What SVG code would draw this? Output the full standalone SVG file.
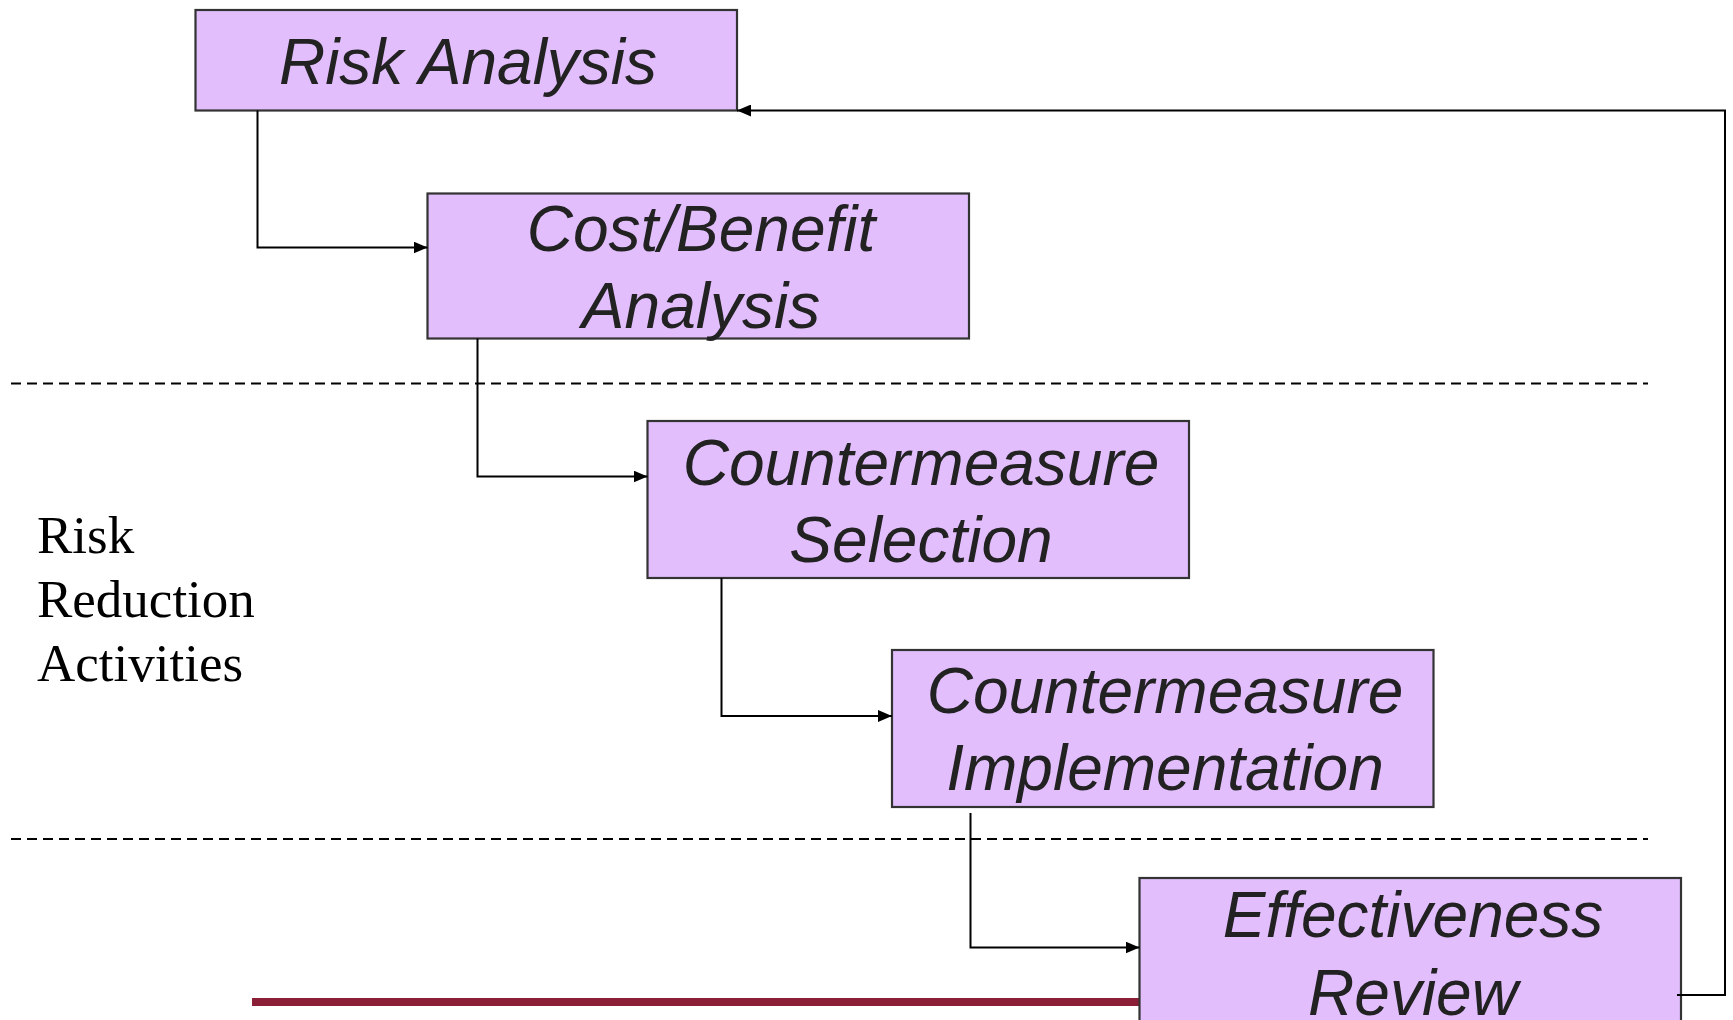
<svg xmlns="http://www.w3.org/2000/svg" width="1733" height="1020" viewBox="0 0 1733 1020">
  <style>
    .box { fill: #E2BEFC; stroke: #333333; stroke-width: 2.2; }
    .lbl { font-family: "Liberation Sans", Arial, sans-serif; font-style: italic; font-size: 64px; fill: #222222; text-anchor: middle; }
    .side { font-family: "Liberation Serif", "Times New Roman", serif; font-size: 53px; fill: #000000; }
    .conn { fill: none; stroke: #000000; stroke-width: 2; }
    .divider { stroke: #000000; stroke-width: 2; stroke-dasharray: 10 6; }
  </style>
  <defs>
    <marker id="arrow" viewBox="0 0 14 12" refX="14" refY="6" markerWidth="14" markerHeight="12" markerUnits="userSpaceOnUse" orient="auto">
      <path d="M0,0 L14,6 L0,12 Z" fill="#000000"/>
    </marker>
  </defs>

  <rect width="1733" height="1020" fill="#FFFFFF"/>

  <!-- phase dividers -->
  <line class="divider" x1="11" y1="383.5" x2="1648" y2="383.5"/>
  <line class="divider" x1="11" y1="839" x2="1648" y2="839"/>

  <!-- slide accent bar -->
  <rect x="252" y="998" width="890" height="8" fill="#8C1F38"/>

  <!-- side caption -->
  <g id="caption">
    <text class="side" x="37" y="553">Risk</text>
    <text class="side" x="37" y="617">Reduction</text>
    <text class="side" x="37" y="681">Activities</text>
  </g>

  <g id="risk-analysis">
    <rect class="box" x="195.5" y="10" width="541.5" height="100.5"/>
    <text class="lbl" x="468" y="84">Risk Analysis</text>
  </g>

  <g id="cost-benefit">
    <rect class="box" x="427.5" y="193.5" width="541.5" height="145"/>
    <text class="lbl" x="701" y="251">Cost/Benefit</text>
    <text class="lbl" x="701" y="328">Analysis</text>
  </g>

  <g id="countermeasure-selection">
    <rect class="box" x="647.5" y="421" width="541.5" height="157"/>
    <text class="lbl" x="921" y="485">Countermeasure</text>
    <text class="lbl" x="921" y="562">Selection</text>
  </g>

  <g id="countermeasure-implementation">
    <rect class="box" x="892" y="650" width="541.5" height="157"/>
    <text class="lbl" x="1165" y="713">Countermeasure</text>
    <text class="lbl" x="1165" y="790">Implementation</text>
  </g>

  <g id="effectiveness-review">
    <rect class="box" x="1139.5" y="878" width="541.5" height="157"/>
    <text class="lbl" x="1413" y="937">Effectiveness</text>
    <text class="lbl" x="1413" y="1015">Review</text>
  </g>

  <g id="connectors">
    <polyline class="conn" points="257.5,110.5 257.5,247.5 427.5,247.5" marker-end="url(#arrow)"/>
    <polyline class="conn" points="477.5,338.5 477.5,476.5 647.5,476.5" marker-end="url(#arrow)"/>
    <polyline class="conn" points="721.5,578 721.5,716 892,716" marker-end="url(#arrow)"/>
    <polyline class="conn" points="970.5,813 970.5,947.5 1139.5,947.5" marker-end="url(#arrow)"/>
    <polyline class="conn" points="1677,995 1725,995 1725,110.5 737,110.5" marker-end="url(#arrow)"/>
  </g>
</svg>
